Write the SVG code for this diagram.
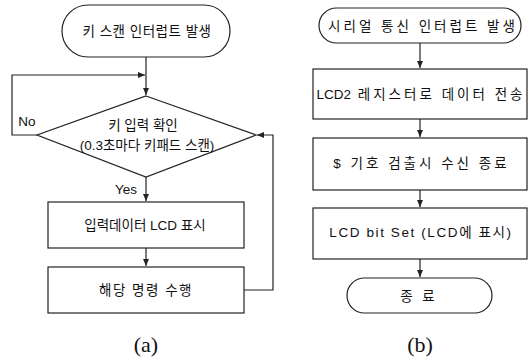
<svg xmlns="http://www.w3.org/2000/svg" width="530" height="363" viewBox="0 0 530 363">
<defs>
<marker id="ah" markerWidth="8" markerHeight="8" refX="7" refY="4" orient="auto" markerUnits="userSpaceOnUse">
<path d="M0,1 L7,4 L0,7 z" fill="#222"/>
</marker>
<style>
.s{fill:#fff;stroke:#222;stroke-width:1.2}
.c{fill:none;stroke:#222;stroke-width:1.2}
.t{font-family:"Liberation Sans","Noto Sans CJK KR",sans-serif;font-size:13.5px;fill:#111;text-anchor:middle;dominant-baseline:central}
.cap{font-family:"Liberation Serif",serif;font-size:22px;fill:#111;text-anchor:middle}
</style>
</defs>
<rect width="530" height="363" fill="#fff"/>
<g id="connectors">
<path class="c" d="M146,57 V95" marker-end="url(#ah)"/>
<path class="c" d="M37,135 H12 V75 H145" marker-end="url(#ah)"/>
<path class="c" d="M146,177 V201" marker-end="url(#ah)"/>
<path class="c" d="M146,248 V266" marker-end="url(#ah)"/>
<path class="c" d="M244,290 H273 V135 H257" marker-end="url(#ah)"/>
<path class="c" d="M420,43 V68" marker-end="url(#ah)"/>
<path class="c" d="M420,119 V137" marker-end="url(#ah)"/>
<path class="c" d="M420,190 V207" marker-end="url(#ah)"/>
<path class="c" d="M420,259 V277" marker-end="url(#ah)"/>
</g>
<g id="a_start">
<rect class="s" x="62" y="5" width="168" height="52" rx="26"/>
<text class="t" x="147" y="31" letter-spacing="0.5">키 스캔 인터럽트 발생</text>
</g>
<g id="a_decision">
<polygon class="s" points="146,96 256,135 146,177 37,135"/>
<text class="t" x="143" y="125">키 입력 확인</text>
<text class="t" x="147" y="145">(0.3초마다 키패드 스캔)</text>
</g>
<g id="a_labels">
<text class="t" x="27" y="121">No</text>
<text class="t" x="126" y="189">Yes</text>
</g>
<g id="a_box1">
<rect class="s" x="48" y="202" width="196" height="46"/>
<text class="t" x="145" y="225">입력데이터 LCD 표시</text>
</g>
<g id="a_box2">
<rect class="s" x="48" y="267" width="196" height="46"/>
<text class="t" x="146" y="290" letter-spacing="1.5">해당 명령 수행</text>
</g>
<g id="b_start">
<rect class="s" x="319" y="8" width="202" height="35" rx="17.5"/>
<text class="t" x="423" y="26" letter-spacing="3">시리얼 통신 인터럽트 발생</text>
</g>
<g id="b_box1">
<rect class="s" x="313" y="69" width="214" height="50"/>
<text class="t" x="421" y="94">LCD2<tspan letter-spacing="3"> 레지스터로 데이터 전송</tspan></text>
</g>
<g id="b_box2">
<rect class="s" x="313" y="138" width="214" height="52"/>
<text class="t" x="421.5" y="163" letter-spacing="3">$ 기호 검출시 수신 종료</text>
</g>
<g id="b_box3">
<rect class="s" x="313" y="208" width="214" height="51"/>
<text class="t" x="421" y="232" letter-spacing="1.6">LCD bit Set (LCD에 표시)</text>
</g>
<g id="b_end">
<rect class="s" x="347" y="278" width="145" height="35" rx="17.5"/>
<text class="t" x="419" y="296" letter-spacing="3">종 료</text>
</g>
<text class="cap" x="146" y="352">(a)</text>
<text class="cap" x="420" y="352">(b)</text>
</svg>
